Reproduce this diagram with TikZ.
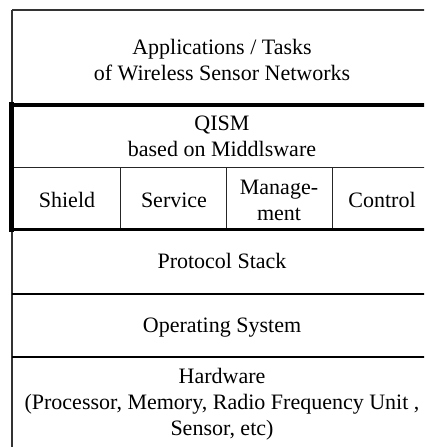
\documentclass[tikz,border=0pt]{standalone}
\usepackage{fontspec}
\setmainfont{Liberation Serif}
\begin{document}
\begin{tikzpicture}[x=1pt,y=-1pt,
  lbl/.style={anchor=base,inner sep=0pt,font=\fontsize{22}{26}\selectfont},
  thinline/.style={line width=1.3pt,draw=black!80},
  hairline/.style={line width=1pt,draw=black!85},
  heavy/.style={line width=4pt,draw=black},
  medium/.style={line width=2pt,draw=black}]
\useasboundingbox (0,0) rectangle (424,447);
\clip (0,0) rectangle (424,447);
% frame lines
\coordinate (tl) at (12,10);
\coordinate (tr) at (440,10);
\coordinate (bl) at (12,450);
\draw[thinline] (tl) -- (tr);
\draw[thinline] (tl) -- (bl);
% QISM block
\coordinate (q1) at (11.5,102);
\coordinate (q2) at (11.5,231.5);
\coordinate (a1) at (9,104.5);
\coordinate (a2) at (440,104.5);
\coordinate (c1) at (12,167);
\coordinate (c2) at (440,167);
\coordinate (d1) at (9.5,229.5);
\coordinate (d2) at (440,229.5);
\draw[hairline] (c1) -- (c2);
\coordinate (v1t) at (120.5,167);
\coordinate (v1b) at (120.5,229.5);
\coordinate (v2t) at (226.5,167);
\coordinate (v2b) at (226.5,229.5);
\coordinate (v3t) at (332.5,167);
\coordinate (v3b) at (332.5,229.5);
\draw[hairline] (v1t) -- (v1b);
\draw[hairline] (v2t) -- (v2b);
\draw[hairline] (v3t) -- (v3b);
\draw[heavy] (a1) -- (a2);
\draw[line width=3.5pt] (d1) -- (d2);
\draw[line width=4.5pt] (q1) -- (q2);
% lower layers
\coordinate (p1) at (12,294);
\coordinate (p2) at (440,294);
\coordinate (o1) at (12,357);
\coordinate (o2) at (440,357);
\draw[medium] (p1) -- (p2);
\draw[medium] (o1) -- (o2);
% texts
\node[lbl] (app1) at (222,54) {Applications / Tasks};
\node[lbl] (app2) at (222,80) {of Wireless Sensor Networks};
\node[lbl] (qism1) at (222,130) {QISM};
\node[lbl] (qism2) at (222,156) {based on Middlsware};
\node[lbl] (shield) at (67,207) {Shield};
\node[lbl] (service) at (174,207) {Service};
\node[lbl] (mgmt1) at (279,194) {Manage-};
\node[lbl] (mgmt2) at (279,220) {ment};
\node[lbl] (control) at (382,207) {Control};
\node[lbl] (proto) at (222,268) {Protocol Stack};
\node[lbl] (os) at (222,332) {Operating System};
\node[lbl] (hw1) at (222,383) {Hardware};
\node[lbl] (hw2) at (222,409) {(Processor, Memory, Radio Frequency Unit ,};
\node[lbl] (hw3) at (222,435) {Sensor, etc)};
\end{tikzpicture}
\end{document}
